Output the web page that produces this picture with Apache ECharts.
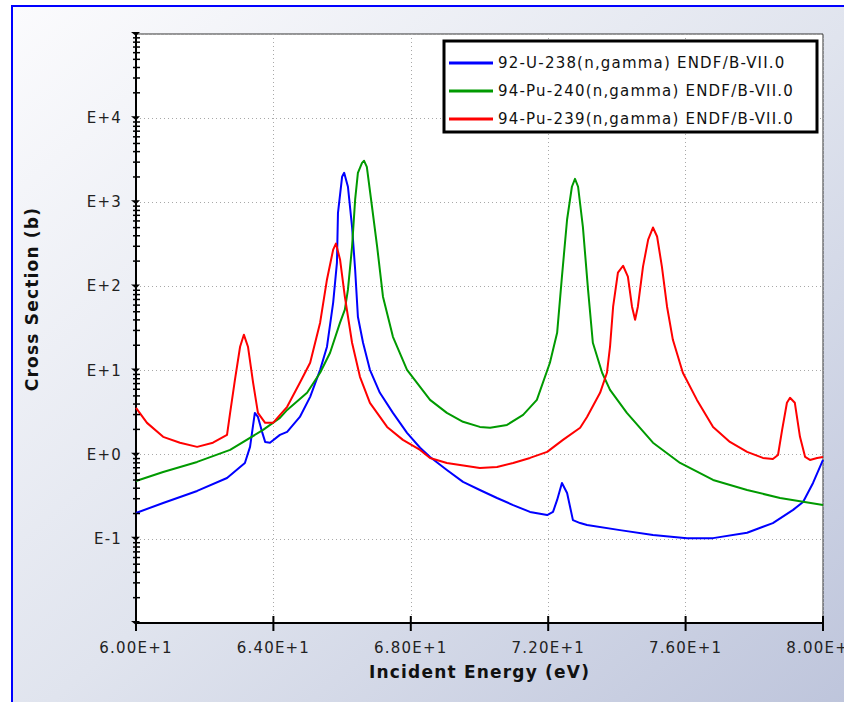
<!DOCTYPE html>
<html>
<head>
<meta charset="utf-8">
<title>Capture cross sections, 60–80 eV</title>
<script src="https://cdn.jsdelivr.net/npm/echarts@6/dist/echarts.min.js"></script>
<style>
  html, body { margin: 0; padding: 0; width: 844px; height: 702px; overflow: hidden; background: #ffffff; }
  #frame {
    position: absolute; left: 11px; top: 5px; width: 900px; height: 760px;
    box-sizing: border-box; border: 2px solid #0000ff;
    background: linear-gradient(to bottom right, #fbfbfd 0%, #e0e4ee 48%, #bdc4db 94%);
  }
  #chart { position: absolute; left: 0; top: 0; width: 844px; height: 702px; }
  #chart text { letter-spacing: 1.2px; }
</style>
</head>
<body>
<div id="frame"></div>
<div id="chart"></div>
<script>
// ---- Series names ----
const seriesNames = [
  '92-U-238(n,gamma) ENDF/B-VII.0',
  '94-Pu-240(n,gamma) ENDF/B-VII.0',
  '94-Pu-239(n,gamma) ENDF/B-VII.0'
];
const seriesColors = ['#0000ff', '#009a00', '#ff0000'];

// ---- U-238 (n,gamma): incident energy (eV) and cross section (b) ----
const u238Energy = [60.00, 60.79, 61.78, 62.65, 63.17, 63.32, 63.41, 63.46, 63.55, 63.67,
  63.76, 63.90, 64.19, 64.40, 64.77, 65.07, 65.36, 65.56, 65.74, 65.85,
  65.88, 66.00, 66.06, 66.17, 66.29, 66.38, 66.46, 66.61, 66.81, 67.10,
  67.48, 67.89, 68.27, 68.56, 69.05, 69.52, 70.01, 70.51, 70.98, 71.47,
  71.97, 72.14, 72.26, 72.40, 72.55, 72.72, 72.93, 73.13, 74.09, 75.05,
  76.04, 76.80, 77.79, 78.54, 79.13, 79.42, 79.71, 80.00];
const u238Xs = [0.203, 0.267, 0.371, 0.529, 0.798, 1.24, 2.26, 3.14, 2.81, 1.87,
  1.42, 1.39, 1.72, 1.87, 2.81, 4.87, 10.2, 19.2, 64.2, 192,
  750, 2010, 2240, 1530, 510, 158, 43.6, 21.4, 10.2, 5.44,
  3.14, 1.82, 1.21, 0.941, 0.659, 0.475, 0.381, 0.306, 0.252, 0.209,
  0.192, 0.209, 0.290, 0.462, 0.351, 0.167, 0.154, 0.146, 0.127, 0.111,
  0.102, 0.102, 0.118, 0.154, 0.221, 0.274, 0.462, 0.867];

// ---- Pu-240 (n,gamma) ----
const pu240Energy = [60.00, 60.79, 61.78, 62.74, 63.70, 64.19, 64.40, 64.98, 65.36, 65.65,
  65.94, 66.08, 66.17, 66.29, 66.38, 66.46, 66.58, 66.64, 66.72, 66.87,
  67.02, 67.19, 67.48, 67.89, 68.27, 68.56, 69.05, 69.52, 70.01, 70.31,
  70.80, 71.27, 71.67, 72.05, 72.26, 72.40, 72.55, 72.69, 72.78, 72.87,
  73.01, 73.16, 73.30, 73.57, 73.80, 74.29, 75.05, 75.84, 76.80, 77.79,
  78.75, 80.00];
const pu240Xs = [0.487, 0.624, 0.821, 1.14, 1.97, 2.74, 3.41, 5.44, 9.41, 16.3,
  37.1, 52.9, 91.6, 297, 1080, 2240, 2940, 3110, 2640, 891,
  297, 75.5, 25.2, 10.2, 6.42, 4.48, 3.14, 2.46, 2.14, 2.09,
  2.26, 2.97, 4.48, 12.4, 28.1, 131, 624, 1530, 1900, 1530,
  510, 91.6, 21.4, 9.41, 5.90, 3.14, 1.39, 0.798, 0.501, 0.381,
  0.306, 0.252];

// ---- Pu-239 (n,gamma) ----
const pu239Energy = [60.00, 60.32, 60.79, 61.28, 61.78, 62.24, 62.65, 62.74, 62.88, 63.03,
  63.14, 63.26, 63.41, 63.55, 63.76, 63.99, 64.40, 64.77, 65.07, 65.36,
  65.56, 65.74, 65.82, 65.94, 66.08, 66.29, 66.52, 66.81, 67.31, 67.77,
  68.27, 68.56, 69.05, 70.01, 70.51, 70.98, 71.47, 71.97, 72.43, 72.93,
  73.13, 73.51, 73.71, 73.80, 73.89, 74.03, 74.18, 74.32, 74.44, 74.53,
  74.61, 74.76, 74.91, 75.05, 75.17, 75.31, 75.46, 75.63, 75.92, 76.33,
  76.80, 77.29, 77.79, 78.25, 78.54, 78.69, 78.81, 78.95, 79.04, 79.18,
  79.33, 79.48, 79.62, 79.83, 80.00];
const pu239Xs = [3.60, 2.39, 1.63, 1.39, 1.24, 1.39, 1.72, 3.14, 7.76, 19.2,
  26.7, 19.2, 7.15, 3.14, 2.39, 2.39, 3.71, 7.15, 12.4, 37.1,
  121, 274, 323, 209, 75.5, 21.4, 8.43, 4.14, 2.14, 1.50,
  1.14, 0.916, 0.798, 0.696, 0.715, 0.798, 0.916, 1.08, 1.50, 2.09,
  2.81, 5.44, 9.41, 19.2, 57.4, 146, 176, 131, 57.4, 40.2,
  57.4, 172, 360, 501, 392, 172, 57.4, 23.2, 9.41, 4.48,
  2.14, 1.42, 1.08, 0.916, 0.891, 0.993, 1.97, 4.14, 4.75, 4.14,
  1.63, 0.941, 0.867, 0.916, 0.941];

// ---- Axis ticks and labels ----
const xTicks = [60, 64, 68, 72, 76, 80];
const xTickLabels = ['6.00E+1', '6.40E+1', '6.80E+1', '7.20E+1', '7.60E+1', '8.00E+1'];
const yDecadeExponents = [-2, -1, 0, 1, 2, 3, 4, 5];
const yLabelExponents = [-1, 0, 1, 2, 3, 4];
const yTickLabels = ['E-1', 'E+0', 'E+1', 'E+2', 'E+3', 'E+4'];
const yMinorMultipliers = [2, 3, 4, 5, 6, 7, 8, 9];

const FONT = '"DejaVu Sans", "Liberation Sans", sans-serif';
const pairs = (xs, ys) => xs.map((x, i) => [x, ys[i]]);

const chart = echarts.init(document.getElementById('chart'), null, { renderer: 'svg' });

// Tick marks on both axes: decade marks, log minor marks, energy marks
function renderTicks(params, api) {
  const children = [];
  yDecadeExponents.forEach(e => {
    const base = Math.pow(10, e);
    const p = api.coord([xTicks[0], base]);
    children.push({
      type: 'polygon',
      shape: { points: [[p[0] - 5, p[1] - 2], [p[0] + 4, p[1] - 2], [p[0], p[1] + 2]] },
      style: { fill: '#000' }
    });
    if (e < yDecadeExponents[yDecadeExponents.length - 1]) {
      yMinorMultipliers.forEach(m => {
        const q = api.coord([xTicks[0], m * base]);
        children.push({
          type: 'line',
          shape: { x1: q[0] - 3, y1: q[1], x2: q[0] + 4, y2: q[1] },
          style: { stroke: '#000', lineWidth: 1.5 }
        });
      });
    }
  });
  xTicks.forEach(v => {
    const p = api.coord([v, Math.pow(10, yDecadeExponents[0])]);
    children.push({
      type: 'line',
      shape: { x1: p[0], y1: p[1] - 7, x2: p[0], y2: p[1] + 8 },
      style: { stroke: '#000', lineWidth: 2 }
    });
  });
  return { type: 'group', children };
}

const lineSeries = [pairs(u238Energy, u238Xs), pairs(pu240Energy, pu240Xs), pairs(pu239Energy, pu239Xs)]
  .map((data, i) => ({
    type: 'line',
    name: seriesNames[i],
    data,
    symbol: 'none',
    showSymbol: false,
    clip: true,
    z: 3,
    lineStyle: { color: seriesColors[i], width: 2, join: 'round' },
    itemStyle: { color: seriesColors[i] }
  }));

const option = {
  backgroundColor: 'transparent',
  animation: false,
  grid: {
    left: 136, right: 21, top: 34, bottom: 79,
    containLabel: false, outerBoundsMode: 'none',
    show: true, backgroundColor: '#ffffff', borderColor: '#333333', borderWidth: 1
  },
  legend: {
    data: seriesNames,
    orient: 'vertical',
    left: 449, top: 55, padding: 0,
    icon: 'rect', itemWidth: 44, itemHeight: 3, itemGap: 12,
    textStyle: { fontFamily: FONT, fontSize: 15, color: '#111111', lineHeight: 16 },
    z: 20
  },
  graphic: {
    elements: [
      {
        type: 'rect', z: 11,
        shape: { x: 444, y: 41, width: 373, height: 91 },
        style: { fill: '#ffffff', stroke: '#000000', lineWidth: 3 }
      },
      {
        type: 'text', x: 32, y: 299, rotation: Math.PI / 2, z: 11,
        style: {
          text: 'Cross Section (b)',
          font: 'bold 17px "DejaVu Sans"',
          fill: '#111111',
          align: 'center', verticalAlign: 'middle',
          textAlign: 'center', textVerticalAlign: 'middle'
        }
      }
    ]
  },
  xAxis: {
    type: 'value', min: xTicks[0], max: xTicks[xTicks.length - 1], interval: 4,
    name: 'Incident Energy (eV)', nameLocation: 'middle', nameGap: 40,
    nameTextStyle: { fontFamily: FONT, fontWeight: 'bold', fontSize: 17, color: '#111111' },
    axisLine: { show: true, onZero: false, lineStyle: { color: '#000000', width: 2 } },
    axisTick: { show: false },
    axisLabel: {
      fontFamily: FONT, fontSize: 15, color: '#222222', margin: 17,
      formatter: v => { const i = xTicks.indexOf(v); return i < 0 ? '' : xTickLabels[i]; }
    },
    splitLine: { show: true, lineStyle: { color: '#a8a8a8', width: 1, type: [1, 3] } }
  },
  yAxis: {
    type: 'log', logBase: 10, min: 0.01, max: 100000,
    axisLine: { show: true, onZero: false, lineStyle: { color: '#000000', width: 2 } },
    axisTick: { show: false },
    axisLabel: {
      fontFamily: FONT, fontSize: 15, color: '#222222', margin: 14,
      formatter: v => {
        const e = Math.round(Math.log10(v));
        const i = yLabelExponents.indexOf(e);
        return i < 0 ? '' : yTickLabels[i];
      }
    },
    splitLine: { show: true, lineStyle: { color: '#a8a8a8', width: 1, type: [1, 3] } }
  },
  series: lineSeries.concat([{
    type: 'custom',
    name: 'axis ticks',
    silent: true,
    clip: false,
    z: 4,
    data: [[xTicks[0], 1]],
    renderItem: renderTicks
  }])
};

chart.setOption(option);
</script>
</body>
</html>
